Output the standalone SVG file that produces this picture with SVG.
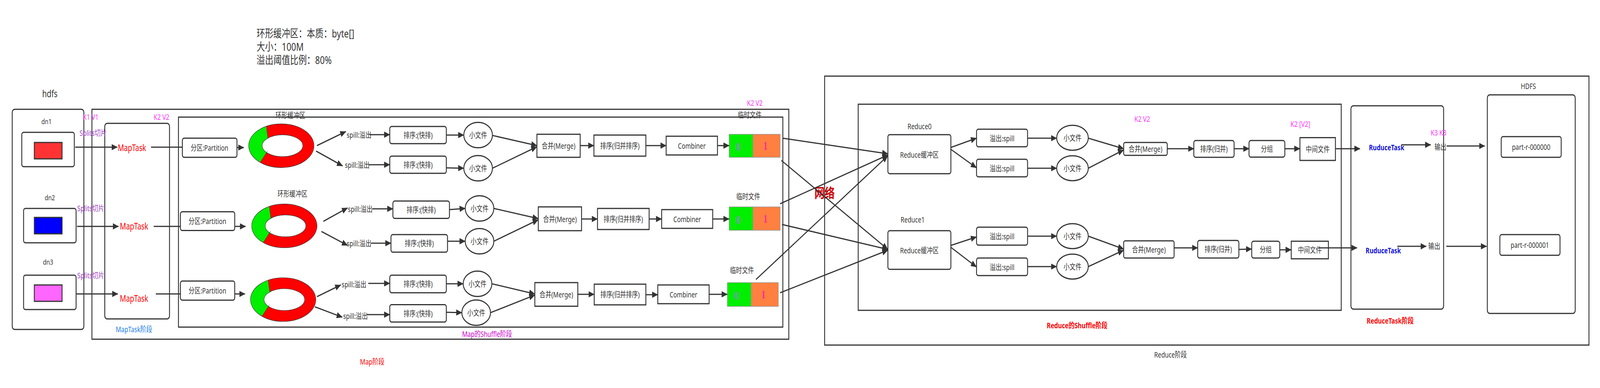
<svg xmlns="http://www.w3.org/2000/svg" width="5361" height="994" viewBox="0 0 5361 994" preserveAspectRatio="none" style="width:100%;height:100%">
<style>
.b{fill:#fff;stroke:#333;stroke-width:3}
.t{font-family:"Noto Sans","Noto Sans CJK SC",sans-serif;font-size:20px;fill:#333;text-anchor:middle;dominant-baseline:central}
.c{stroke:#333;stroke-width:3;fill:none;marker-end:url(#ah)}
.l{stroke:#333;stroke-width:3;fill:none}
.k{fill:#FF33FF}
.sp{fill:#A040C8}
.red{fill:#FF0000}
.bold{font-weight:bold}
.num{font-family:"Liberation Serif",serif;font-size:30px;text-anchor:middle;dominant-baseline:central}
</style>
<defs>
<marker id="ah" markerUnits="userSpaceOnUse" markerWidth="20" markerHeight="16" refX="19" refY="8" orient="auto"><path d="M0,0 L20,8 L0,16 Z" fill="#333"/></marker>
<clipPath id="gclip"><polygon points="-43.7,-12 -54,-70 -130,-70 -130,70 -94,70 -40.8,7.2"/></clipPath>
<g id="ring">
<path d="M-109.5,0 A109.5,56 0 1,0 109.5,0 A109.5,56 0 1,0 -109.5,0 Z M-64,0 A68,28 0 1,0 72,0 A68,28 0 1,0 -64,0 Z" fill="#FF0000" fill-rule="evenodd"/>
<path d="M-109.5,0 A109.5,56 0 1,0 109.5,0 A109.5,56 0 1,0 -109.5,0 Z M-64,0 A68,28 0 1,0 72,0 A68,28 0 1,0 -64,0 Z" fill="#00EE00" fill-rule="evenodd" clip-path="url(#gclip)"/>
<ellipse cx="0" cy="0" rx="109.5" ry="56" fill="none" stroke="#333" stroke-width="1.2"/>
<ellipse cx="4" cy="0" rx="68" ry="28" fill="none" stroke="#333" stroke-width="1.2"/>
<line x1="-50.2" y1="-49.5" x2="-44.8" y2="-18.3" stroke="#333" stroke-width="1"/>
<line x1="-70.3" y1="42" x2="-45.7" y2="13" stroke="#333" stroke-width="1"/>
</g>
</defs>
<rect width="5361" height="994" fill="#fff"/>

<g id="note">
<text x="860" y="85" style="font-family:'Noto Sans','Noto Sans CJK SC',sans-serif;font-size:28px;fill:#333;dominant-baseline:central">环形缓冲区：本质：byte[]</text>
<text x="860" y="119" style="font-family:'Noto Sans','Noto Sans CJK SC',sans-serif;font-size:28px;fill:#333;dominant-baseline:central">大小：100M</text>
<text x="860" y="153" style="font-family:'Noto Sans','Noto Sans CJK SC',sans-serif;font-size:28px;fill:#333;dominant-baseline:central">溢出阈值比例：80%</text>
</g>

<g id="containers">
<rect class="b" x="41" y="280" width="240" height="564" rx="8"/>
<rect class="b" x="308" y="280" width="2335" height="589" fill="none"/>
<rect class="b" x="351" y="316" width="217" height="501" rx="8"/>
<rect class="b" x="598" y="300" width="2025" height="538"/>
<rect class="b" x="2763" y="195" width="2561" height="689"/>
<rect class="b" x="2875.5" y="267" width="1618.5" height="528"/>
<rect class="b" x="4526.5" y="271" width="310.5" height="521" rx="8"/>
<rect class="b" x="4983.5" y="243" width="294.5" height="560" rx="8"/>
</g>

<g id="labels">
<text class="t" x="167" y="239" style="font-size:25px">hdfs</text>
<text class="t" x="449" y="843" style="fill:#1E7FE8">MapTask阶段</text>
<text class="t" x="1632" y="855" style="fill:#CC00CC">Map的Shuffle阶段</text>
<text class="t red" x="1247" y="926">Map阶段</text>
<text class="t" x="3922" y="908">Reduce阶段</text>
<text class="t red bold" x="3609" y="833">Reduce的Shuffle阶段</text>
<text class="t red bold" x="4658" y="821">ReduceTask阶段</text>
<text class="t" x="5121" y="220">HDFS</text>
<text class="t bold" x="2763" y="494" style="font-size:34px;fill:#CC0000">网络</text>
<text class="t k" x="304" y="299">K1  V1</text>
<text class="t k" x="541" y="299">K2  V2</text>
<text class="t k" x="2529" y="263">K2  V2</text>
<text class="t k" x="3827" y="304">K2  V2</text>
<text class="t k" x="4357" y="317">K2 [V2]</text>
<text class="t k" x="4820" y="339">K3  K3</text>
<text class="t sp" x="312" y="340">Splits切片</text>
<text class="t sp" x="304" y="533">Splits切片</text>
<text class="t sp" x="304" y="705">Splits切片</text>
<text class="t" x="973" y="295">环形缓冲区</text>
<text class="t" x="980" y="496">环形缓冲区</text>
<text class="t" x="2512" y="294">临时文件</text>
<text class="t" x="2507" y="503">临时文件</text>
<text class="t" x="2486" y="692">临时文件</text>
<text class="t" x="3081" y="323">Reduce0</text>
<text class="t" x="3058" y="562">Reduce1</text>
</g>

<g id="dn1"><text class="t" x="156" y="311" style="font-size:19px">dn1</text><rect class="b" x="73" y="339" width="176" height="88" rx="6"/><rect x="115" y="365" width="93" height="42" fill="#FF3333" stroke="#333" stroke-width="3"/></g>
<g id="dn2"><text class="t" x="167" y="506" style="font-size:19px">dn2</text><rect class="b" x="79" y="534" width="176" height="88" rx="6"/><rect x="115" y="557" width="93" height="42" fill="#0000FF" stroke="#333" stroke-width="3"/></g>
<g id="dn3"><text class="t" x="161" y="671" style="font-size:19px">dn3</text><rect class="b" x="79" y="705" width="176" height="88" rx="6"/><rect x="115" y="730" width="93" height="42" fill="#FF66FF" stroke="#333" stroke-width="3"/></g>

<g id="maptask1"><text class="t red" x="442" y="378" style="font-size:23px">MapTask</text></g>
<g id="maptask2"><text class="t red" x="449" y="579" style="font-size:23px">MapTask</text></g>
<g id="maptask3"><text class="t red" x="449" y="764" style="font-size:23px">MapTask</text></g>

<g id="partition1"><rect class="b" x="611" y="354" width="183" height="49" rx="6"/><text class="t" x="702" y="378">分区:Partition</text></g>
<g id="partition2"><rect class="b" x="604.5" y="542.5" width="182" height="48" rx="6"/><text class="t" x="695" y="566">分区:Partition</text></g>
<g id="partition3"><rect class="b" x="604.5" y="720" width="182" height="49" rx="6"/><text class="t" x="695" y="744">分区:Partition</text></g>

<g id="ring1"><use href="#ring" transform="translate(942.6,373.3)"/></g>
<g id="ring2"><use href="#ring" transform="translate(952.7,578.7)"/></g>
<g id="ring3"><use href="#ring" transform="translate(948.7,767.5)"/></g>

<g id="spilltexts">
<text class="t" x="1203" y="345">spill:溢出</text>
<text class="t" x="1197" y="422">spill:溢出</text>
<text class="t" x="1207" y="535">spill:溢出</text>
<text class="t" x="1203" y="623">spill:溢出</text>
<text class="t" x="1186" y="728">spill:溢出</text>
<text class="t" x="1191" y="809">spill:溢出</text>
</g>

<g id="sortA"><rect class="b" x="1306" y="324" width="189.5" height="44" rx="6"/><text class="t" x="1401" y="346">排序:(快排)</text></g>
<g id="sortB"><rect class="b" x="1306" y="400" width="189.5" height="44" rx="6"/><text class="t" x="1401" y="422">排序:(快排)</text></g>
<g id="sortC"><rect class="b" x="1316.5" y="515" width="189.5" height="44.5" rx="6"/><text class="t" x="1411" y="537">排序:(快排)</text></g>
<g id="sortD"><rect class="b" x="1310" y="601" width="189.5" height="45" rx="6"/><text class="t" x="1405" y="623">排序:(快排)</text></g>
<g id="sortE"><rect class="b" x="1306" y="705" width="189.5" height="45" rx="6"/><text class="t" x="1401" y="727">排序:(快排)</text></g>
<g id="sortF"><rect class="b" x="1306" y="780.5" width="189.5" height="44.5" rx="6"/><text class="t" x="1401" y="803">排序:(快排)</text></g>

<g id="smallA"><ellipse class="b" cx="1602" cy="346" rx="48" ry="32.5"/><text class="t" x="1602" y="346">小文件</text></g>
<g id="smallB"><ellipse class="b" cx="1602" cy="431" rx="48" ry="32.5"/><text class="t" x="1602" y="431">小文件</text></g>
<g id="smallC"><ellipse class="b" cx="1606.7" cy="534" rx="48" ry="32.5"/><text class="t" x="1606.7" y="534">小文件</text></g>
<g id="smallD"><ellipse class="b" cx="1606.7" cy="618" rx="48" ry="32.5"/><text class="t" x="1606.7" y="618">小文件</text></g>
<g id="smallE"><ellipse class="b" cx="1600" cy="727" rx="48" ry="32.5"/><text class="t" x="1600" y="727">小文件</text></g>
<g id="smallF"><ellipse class="b" cx="1595.5" cy="801" rx="48" ry="32.5"/><text class="t" x="1595.5" y="801">小文件</text></g>

<g id="merge1"><rect class="b" x="1799" y="344" width="145" height="59"/><text class="t" x="1871.5" y="373">合并(Merge)</text></g>
<g id="merge2"><rect class="b" x="1803.6" y="530" width="145" height="61"/><text class="t" x="1876" y="561">合并(Merge)</text></g>
<g id="merge3"><rect class="b" x="1792" y="724" width="144" height="60.5"/><text class="t" x="1864" y="754">合并(Merge)</text></g>

<g id="msort1"><rect class="b" x="1990" y="346" width="174" height="54"/><text class="t" x="2077" y="373">排序(归并排序)</text></g>
<g id="msort2"><rect class="b" x="2002" y="534" width="173" height="54"/><text class="t" x="2088.5" y="561">排序(归并排序)</text></g>
<g id="msort3"><rect class="b" x="1991" y="728" width="173" height="53"/><text class="t" x="2077.5" y="754.5">排序(归并排序)</text></g>

<g id="combiner1"><rect class="b" x="2232" y="349" width="172" height="48"/><text class="t" x="2318" y="373">Combiner</text></g>
<g id="combiner2"><rect class="b" x="2217" y="537" width="171" height="48"/><text class="t" x="2302.5" y="561">Combiner</text></g>
<g id="combiner3"><rect class="b" x="2204" y="730" width="172" height="48"/><text class="t" x="2290" y="754">Combiner</text></g>

<g id="temp1"><rect x="2443" y="344" width="80" height="59" fill="#00EE00" stroke="#999" stroke-width="1.5"/><rect x="2523" y="344" width="91" height="59" fill="#FF8040" stroke="#999" stroke-width="1.5"/><text class="num" x="2474" y="376" fill="#B266FF">0</text><text class="num" x="2565" y="373" fill="#FF00CC">1</text></g>
<g id="temp2"><rect x="2443" y="530" width="80" height="60" fill="#00EE00" stroke="#999" stroke-width="1.5"/><rect x="2523" y="530" width="91" height="60" fill="#FF8040" stroke="#999" stroke-width="1.5"/><text class="num" x="2474" y="563" fill="#B266FF">0</text><text class="num" x="2565" y="560" fill="#FF00CC">1</text></g>
<g id="temp3"><rect x="2437" y="724" width="80" height="61" fill="#00EE00" stroke="#999" stroke-width="1.5"/><rect x="2517" y="724" width="91" height="61" fill="#FF8040" stroke="#999" stroke-width="1.5"/><text class="num" x="2468" y="757" fill="#B266FF">0</text><text class="num" x="2558" y="754" fill="#FF00CC">1</text></g>

<g id="rbuf0"><rect class="b" x="2975" y="345" width="211" height="100" rx="6"/><text class="t" x="3080.5" y="396">Reduce缓冲区</text></g>
<g id="rbuf1"><rect class="b" x="2975" y="591" width="211" height="99" rx="6"/><text class="t" x="3080.5" y="641">Reduce缓冲区</text></g>

<g id="rspill1"><rect class="b" x="3272" y="331" width="171" height="45" rx="6"/><text class="t" x="3357.5" y="354">溢出:spill</text></g>
<g id="rspill2"><rect class="b" x="3272" y="408" width="171" height="45" rx="6"/><text class="t" x="3357.5" y="431">溢出:spill</text></g>
<g id="rspill3"><rect class="b" x="3272" y="582" width="171" height="46" rx="6"/><text class="t" x="3357.5" y="605">溢出:spill</text></g>
<g id="rspill4"><rect class="b" x="3272" y="661" width="171" height="45" rx="6"/><text class="t" x="3357.5" y="684">溢出:spill</text></g>

<g id="rsmall1"><ellipse class="b" cx="3593.5" cy="353" rx="53" ry="32"/><text class="t" x="3593.5" y="353">小文件</text></g>
<g id="rsmall2"><ellipse class="b" cx="3593.5" cy="431" rx="53" ry="32"/><text class="t" x="3593.5" y="431">小文件</text></g>
<g id="rsmall3"><ellipse class="b" cx="3593.5" cy="605" rx="53" ry="32"/><text class="t" x="3593.5" y="605">小文件</text></g>
<g id="rsmall4"><ellipse class="b" cx="3593.5" cy="683" rx="53" ry="32"/><text class="t" x="3593.5" y="683">小文件</text></g>

<g id="rmerge1"><rect class="b" x="3765" y="365" width="146" height="33" rx="5"/><text class="t" x="3838" y="381.5">合并(Merge)</text></g>
<g id="rmerge2"><rect class="b" x="3765" y="617" width="169" height="44" rx="5"/><text class="t" x="3849.5" y="639">合并(Merge)</text></g>

<g id="rsort1"><rect class="b" x="4000" y="360" width="135" height="43" rx="6"/><text class="t" x="4067.5" y="381.5">排序(归并)</text></g>
<g id="rsort2"><rect class="b" x="4013" y="616" width="138" height="45" rx="6"/><text class="t" x="4082" y="638.5">排序(归并)</text></g>

<g id="group1"><rect class="b" x="4185" y="360" width="120" height="42.5" rx="6"/><text class="t" x="4245" y="381">分组</text></g>
<g id="group2"><rect class="b" x="4194" y="618" width="94" height="43" rx="6"/><text class="t" x="4241" y="639.5">分组</text></g>

<g id="mid1"><rect class="b" x="4355.6" y="352.6" width="119" height="58.4"/><text class="t" x="4415" y="382">中间文件</text></g>
<g id="mid2"><rect class="b" x="4326.5" y="618" width="124.5" height="45"/><text class="t" x="4389" y="640.5">中间文件</text></g>

<g id="rtask1"><text class="t bold" x="4646" y="377" style="fill:#1010DD">RuduceTask</text></g>
<g id="rtask2"><text class="t bold" x="4635" y="641" style="fill:#1010DD">RuduceTask</text></g>
<g id="out1"><text class="t" x="4826.5" y="376">输出</text></g>
<g id="out2"><text class="t" x="4805.6" y="630">输出</text></g>

<g id="part0"><rect class="b" x="5030" y="350" width="201" height="53" rx="6"/><text class="t" x="5130.5" y="376.5">part-r-000000</text></g>
<g id="part1"><rect class="b" x="5025.5" y="601" width="201.5" height="53" rx="6"/><text class="t" x="5126" y="627.5">part-r-000001</text></g>

<g id="connectors">
<line class="c" x1="252" y1="377" x2="393" y2="377"/>
<line class="c" x1="258" y1="580" x2="397" y2="580"/>
<line class="c" x1="254" y1="753" x2="395" y2="753"/>
<line class="l" x1="506" y1="377" x2="611" y2="377"/>
<line class="l" x1="515" y1="580" x2="604.5" y2="580"/>
<line class="l" x1="522" y1="753" x2="604.5" y2="753"/>
<line class="c" x1="794" y1="378" x2="817" y2="378"/>
<line class="c" x1="786.5" y1="580" x2="823" y2="580"/>
<line class="c" x1="786.5" y1="753" x2="821" y2="753"/>
<line class="c" x1="1062" y1="373" x2="1159" y2="337"/>
<line class="c" x1="1059" y1="387" x2="1148" y2="425"/>
<line class="c" x1="1083.5" y1="567" x2="1164.7" y2="532.7"/>
<line class="c" x1="1077" y1="593" x2="1164.7" y2="628.7"/>
<line class="c" x1="1062" y1="760" x2="1142" y2="730"/>
<line class="c" x1="1055" y1="786" x2="1147" y2="812.6"/>
<line class="c" x1="1238" y1="345" x2="1306" y2="345"/>
<line class="c" x1="1235" y1="422" x2="1306" y2="422"/>
<line class="c" x1="1247" y1="535" x2="1316.5" y2="535"/>
<line class="c" x1="1243" y1="623" x2="1310" y2="623"/>
<line class="c" x1="1234" y1="726" x2="1306" y2="726"/>
<line class="c" x1="1229" y1="806" x2="1306" y2="806"/>
<line class="c" x1="1495.5" y1="346" x2="1554" y2="346"/>
<line class="c" x1="1495.5" y1="430" x2="1554" y2="431"/>
<line class="c" x1="1506" y1="537" x2="1558.7" y2="534"/>
<line class="c" x1="1499.5" y1="618" x2="1558.7" y2="618"/>
<line class="c" x1="1495.5" y1="727" x2="1552" y2="727"/>
<line class="c" x1="1495.5" y1="800" x2="1547.5" y2="801"/>
<line class="c" x1="1650" y1="347" x2="1799" y2="373"/>
<line class="c" x1="1650" y1="431" x2="1799" y2="376"/>
<line class="c" x1="1654.7" y1="534" x2="1803.6" y2="560"/>
<line class="c" x1="1654.7" y1="618" x2="1803.6" y2="563"/>
<line class="c" x1="1648" y1="727" x2="1792" y2="753"/>
<line class="c" x1="1643.5" y1="801" x2="1792" y2="756"/>
<line class="c" x1="1944" y1="373" x2="1990" y2="373"/>
<line class="c" x1="1948.6" y1="561" x2="2002" y2="561"/>
<line class="c" x1="1936" y1="754" x2="1991" y2="754"/>
<line class="c" x1="2164" y1="373" x2="2232" y2="373"/>
<line class="c" x1="2175" y1="561" x2="2217" y2="561"/>
<line class="c" x1="2164" y1="755" x2="2204" y2="755"/>
<line class="c" x1="2404" y1="373" x2="2443" y2="373"/>
<line class="c" x1="2388" y1="561" x2="2443" y2="561"/>
<line class="c" x1="2376" y1="754" x2="2437" y2="754"/>
<line class="c" x1="2622" y1="354" x2="2975" y2="394"/>
<line class="c" x1="2618" y1="411" x2="2975" y2="639"/>
<line class="c" x1="2614" y1="522" x2="2975" y2="397"/>
<line class="c" x1="2620" y1="575" x2="2975" y2="639"/>
<line class="c" x1="2533" y1="716" x2="2975" y2="399"/>
<line class="c" x1="2614" y1="750" x2="2975" y2="641"/>
<line class="c" x1="3185" y1="378" x2="3272" y2="354"/>
<line class="c" x1="3185" y1="382" x2="3272" y2="430"/>
<line class="c" x1="3185" y1="629" x2="3272" y2="607"/>
<line class="c" x1="3185" y1="633" x2="3272" y2="684"/>
<line class="c" x1="3443" y1="354" x2="3540.5" y2="354"/>
<line class="c" x1="3443" y1="431" x2="3540.5" y2="431"/>
<line class="c" x1="3443" y1="605" x2="3540.5" y2="605"/>
<line class="c" x1="3443" y1="683" x2="3540.5" y2="683"/>
<line class="c" x1="3646.5" y1="354" x2="3765" y2="381"/>
<line class="c" x1="3646.5" y1="431" x2="3765" y2="384"/>
<line class="c" x1="3646.5" y1="605" x2="3765" y2="638"/>
<line class="c" x1="3646.5" y1="683" x2="3765" y2="641"/>
<line class="c" x1="3911" y1="381" x2="4000" y2="381"/>
<line class="c" x1="3934" y1="635" x2="4013" y2="635"/>
<line class="c" x1="4135" y1="381" x2="4185" y2="381"/>
<line class="c" x1="4151" y1="639" x2="4194" y2="638"/>
<line class="c" x1="4305" y1="381" x2="4355.6" y2="381"/>
<line class="c" x1="4288" y1="640" x2="4326.5" y2="640"/>
<line class="c" x1="4474.5" y1="381" x2="4557" y2="381"/>
<line class="c" x1="4419" y1="635" x2="4547" y2="635"/>
<line class="c" x1="4697" y1="371" x2="4794" y2="371"/>
<line class="c" x1="4682" y1="631" x2="4779" y2="631"/>
<line class="c" x1="4847" y1="374" x2="4975" y2="374"/>
<line class="c" x1="4846" y1="631" x2="4981" y2="631"/>
</g>
</svg>
